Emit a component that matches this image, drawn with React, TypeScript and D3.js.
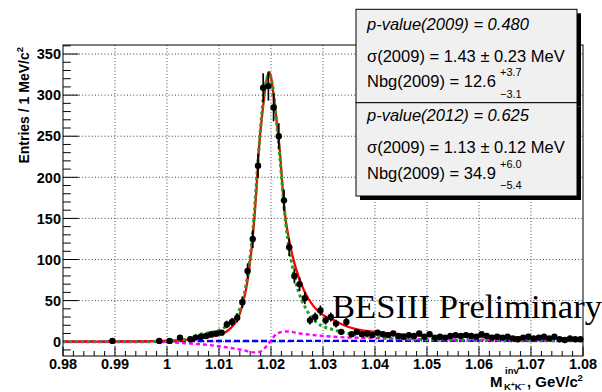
import React from 'react';
import * as d3 from 'd3';

const xTickValues = [0.98, 0.99, 1.0, 1.01, 1.02, 1.03, 1.04, 1.05, 1.06, 1.07, 1.08];
const xTickLabels = ['0.98', '0.99', '1', '1.01', '1.02', '1.03', '1.04', '1.05', '1.06', '1.07', '1.08'];
const yTickValues = [0, 50, 100, 150, 200, 250, 300, 350];

const dataMass = [
  0.9895, 0.9985, 1.0005, 1.0025, 1.0045, 1.0055, 1.0065, 1.0075, 1.0085, 1.0095,
  1.0105, 1.0115, 1.0125, 1.0135, 1.0145, 1.0155, 1.0165, 1.0175, 1.0185, 1.0195,
  1.0205, 1.0215, 1.0225, 1.0235, 1.0245, 1.0255, 1.0265, 1.0275, 1.0285, 1.0295,
  1.0305, 1.0315, 1.0325, 1.0335, 1.0345, 1.0355, 1.0365, 1.0375, 1.0385, 1.0395,
  1.0405, 1.0415, 1.0425, 1.0435, 1.0445, 1.0455, 1.0465, 1.0475, 1.0485, 1.0495,
  1.0505, 1.0515, 1.0525, 1.0535, 1.0545, 1.0555, 1.0565, 1.0575, 1.0585, 1.0595,
  1.0605, 1.0615, 1.0625, 1.0635, 1.0645, 1.0655, 1.0665, 1.0675, 1.0685, 1.0695,
  1.0705, 1.0715, 1.0725, 1.0735, 1.0745, 1.0755, 1.0765, 1.0775, 1.0785, 1.0795,
];
const dataCounts = [
  1, 1, 1, 5, 3, 5, 6, 7, 9, 10,
  11, 21, 24, 29, 48, 86, 125, 214, 309, 311,
  285, 250, 172, 115, 80, 70, 53, 26, 30, 38,
  26, 30, 22, 12, 24, 9, 12, 9, 10, 8,
  11, 9, 8, 10, 7, 6, 8, 7, 10, 6,
  9, 5, 6, 5, 7, 8, 7, 8, 7, 6,
  9, 7, 5, 6, 5, 6, 4, 3, 5, 6,
  4, 5, 6, 4, 6, 3, 2, 4, 3, 3,
];

const totalFit: [number, number][] = [
  [0.98, 0], [0.99, 0.2], [0.995, 0.5], [1.0, 1.2], [1.004, 2.5], [1.007, 4.5], [1.01, 8.5],
  [1.012, 15], [1.014, 34], [1.0156, 79], [1.0165, 128], [1.0172, 185], [1.01756, 225],
  [1.01852, 288], [1.01898, 312], [1.0196, 328], [1.02, 322], [1.0205, 300], [1.0211, 268],
  [1.0217, 232], [1.0222, 190], [1.0226, 160], [1.0236, 120], [1.0247, 91], [1.0263, 63],
  [1.0282, 43], [1.0301, 32], [1.0321, 26], [1.034, 20], [1.0365, 15], [1.04, 12],
  [1.045, 9], [1.05, 7], [1.06, 6], [1.07, 5], [1.08, 3.5],
];
const signalFit: [number, number][] = [
  [0.98, 0], [0.995, 0], [1.0, 0.5], [1.003, 2], [1.0064, 9], [1.01, 14], [1.012, 22],
  [1.014, 40], [1.0156, 85], [1.0165, 135], [1.0175, 220], [1.0185, 295], [1.0192, 320],
  [1.0197, 325], [1.0203, 312], [1.0211, 265], [1.0217, 225], [1.0225, 165], [1.0232, 125],
  [1.024, 95], [1.0249, 69], [1.0259, 51], [1.0272, 35], [1.0291, 22], [1.0317, 15],
  [1.0342, 11], [1.0384, 7], [1.0423, 4.5], [1.05, 2.5], [1.06, 1.5], [1.08, 1],
];
const interferenceFit: [number, number][] = [
  [0.98, 0], [0.995, 0], [1.0, -0.5], [1.004, -2], [1.008, -4], [1.011, -6.5], [1.0145, -10],
  [1.0168, -13], [1.0178, -12.5], [1.0186, -9], [1.0192, -5], [1.0198, 0], [1.0204, 5],
  [1.0212, 10], [1.023, 12.5], [1.0256, 10], [1.032, 6], [1.0384, 4.5], [1.045, 3.5],
  [1.06, 2.5], [1.08, 1.5],
];
const backgroundFit: [number, number][] = [
  [0.98, 0], [0.987, 0], [0.99, 0.3], [1.0, 0.6], [1.02, 0.9], [1.05, 1.1], [1.08, 1.3],
];

const W = 602;
const H = 392;
const L = 63, R = 583, T = 45, B = 356;
const SANS = '"Liberation Sans", Arial, Helvetica, sans-serif';

export default function App() {
  const x = d3.scaleLinear().domain([0.98, 1.08]).range([L, R]);
  const y = d3.scaleLinear().domain([-17.4, 361]).range([B, T]);
  const line = d3
    .line<[number, number]>()
    .x((d) => x(d[0]))
    .y((d) => y(d[1]))
    .curve(d3.curveMonotoneX);

  const xMinor = d3.range(0, 51).map((i) => 0.98 + i * 0.002);
  const yMinor = d3.range(-10, 361, 10);

  const boxL = 356, boxR = 577, box1T = 9.3, boxMid = 102.7, box2B = 196;
  const tx = 367;

  return (
    <div style={{ position: 'absolute', left: 0, top: 0 }}>
      <svg width={W} height={H} style={{ display: 'block', background: '#fff' }}>
        <defs>
          <clipPath id="plotclip">
            <rect x={L} y={T} width={R - L} height={B - T} />
          </clipPath>
        </defs>
        {/* grid */}
        <g stroke="#444" strokeWidth={1} strokeDasharray="1,2.2">
          {xTickValues.slice(1, -1).map((v) => (
            <line key={'gx' + v} x1={x(v)} x2={x(v)} y1={T} y2={B} />
          ))}
          {yTickValues.map((v) => (
            <line key={'gy' + v} x1={L} x2={R} y1={y(v)} y2={y(v)} />
          ))}
        </g>
        {/* ticks */}
        <g stroke="#000" strokeWidth={1}>
          {xMinor.map((v, i) => (
            <line key={'xt' + i} x1={x(v)} x2={x(v)} y1={B} y2={B - (i % 5 === 0 ? 9.5 : 5)} />
          ))}
          {yMinor.map((v) => (
            <line key={'yt' + v} x1={L} x2={L + (v % 50 === 0 ? 15.6 : 7.8)} y1={y(v)} y2={y(v)} />
          ))}
        </g>
        {/* curves */}
        <g clipPath="url(#plotclip)" fill="none">
          <path d={line(backgroundFit) || ''} stroke="#0000ff" strokeWidth={2.4} strokeDasharray="6,3" />
          <path d={line(interferenceFit) || ''} stroke="#ff00ff" strokeWidth={2.4} strokeDasharray="4,3" />
          <path d={line(totalFit) || ''} stroke="#ff0000" strokeWidth={2.3} />
          <path d={line(signalFit) || ''} stroke="#1fa01f" strokeWidth={3} strokeDasharray="3,3" />
        </g>
        {/* data */}
        <g>
          {dataMass.map((m, i) => {
            const n = dataCounts[i];
            const e = Math.sqrt(n);
            return (
              <g key={'d' + i}>
                <line x1={x(m)} x2={x(m)} y1={y(n - e)} y2={y(n + e)} stroke="#000" strokeWidth={1.7} />
                <circle cx={x(m)} cy={y(n)} r={3.2} fill="#000" />
              </g>
            );
          })}
        </g>
        {/* frame */}
        <rect x={L} y={T} width={R - L} height={B - T} fill="none" stroke="#000" strokeWidth={1} />
        {/* y tick labels */}
        <g fontFamily={SANS} fontWeight="bold" fontSize={14.5} textAnchor="end">
          {yTickValues.map((v) => (
            <text key={'yl' + v} x={61} y={y(v) + 5.2}>{v}</text>
          ))}
        </g>
        {/* x tick labels */}
        <g fontFamily={SANS} fontWeight="bold" fontSize={14.5} textAnchor="middle">
          {xTickValues.map((v, i) => (
            <text key={'xl' + v} x={x(v)} y={369}>{xTickLabels[i]}</text>
          ))}
        </g>
        {/* y axis title */}
        <text
          transform="translate(29,47) rotate(-90)"
          fontFamily={SANS}
          fontWeight="bold"
          fontSize={14}
          textAnchor="end"
        >
          Entries / 1 MeV/c<tspan dy={-6} fontSize={9.5}>2</tspan>
        </text>
        {/* x axis title */}
        <g fontFamily={SANS} fontWeight="bold">
          <text x={490} y={386.7} fontSize={15}>M</text>
          <text x={505} y={373.5} fontSize={9.5}>inv</text>
          <text x={504} y={390} fontSize={9.5}>
            K<tspan dy={-3} fontSize={6.5}>+</tspan><tspan dy={3}>K</tspan><tspan dy={-3} fontSize={6.5}>−</tspan>
          </text>
          <text x={527} y={386.7} fontSize={15}>, GeV/c</text>
          <text x={577.5} y={381} fontSize={9.5}>2</text>
        </g>
        {/* BESIII Preliminary */}
        <text
          x={332}
          y={318}
          fontFamily='"Liberation Serif", "Times New Roman", serif'
          fontSize={33}
          textLength={270}
          lengthAdjust="spacingAndGlyphs"
        >
          BESIII Preliminary
        </text>
        {/* stats boxes */}
        <g>
          <rect x={boxL + 4} y={box1T + 4} width={boxR - boxL} height={boxMid - box1T} fill="#000" />
          <rect x={boxL} y={box1T} width={boxR - boxL} height={boxMid - box1T} fill="#f0f0f0" stroke="#000" strokeWidth={1} />
          <rect x={boxL + 4} y={boxMid + 4} width={boxR - boxL} height={box2B - boxMid} fill="#000" />
          <rect x={boxL} y={boxMid} width={boxR - boxL} height={box2B - boxMid} fill="#f0f0f0" stroke="#000" strokeWidth={1} />
        </g>
        <g fontFamily={SANS} fontSize={16.5} fill="#000">
          <text x={tx} y={30} fontStyle="italic">p-value(2009) = 0.480</text>
          <text x={tx} y={62}>σ(2009) = 1.43 ± 0.23 MeV</text>
          <text x={tx} y={87.3}>Nbg(2009) = 12.6</text>
          <text x={500} y={76} fontSize={11}>+3.7</text>
          <text x={500} y={97.5} fontSize={11}>−3.1</text>
          <text x={tx} y={121} fontStyle="italic">p-value(2012) = 0.625</text>
          <text x={tx} y={152.7}>σ(2009) = 1.13 ± 0.12 MeV</text>
          <text x={tx} y={178.5}>Nbg(2009) = 34.9</text>
          <text x={500} y={167.5} fontSize={11}>+6.0</text>
          <text x={500} y={189} fontSize={11}>−5.4</text>
        </g>
      </svg>
    </div>
  );
}
